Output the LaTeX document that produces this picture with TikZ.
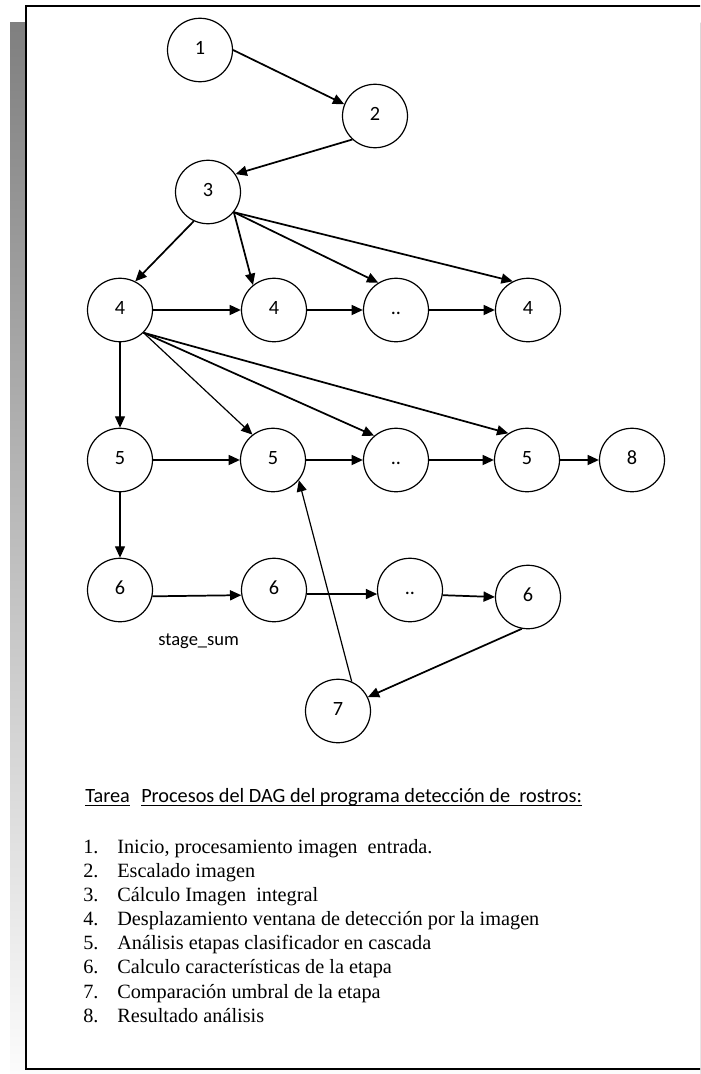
\documentclass[tikz,border=0pt]{standalone}
\usepackage{fontspec}
\setmainfont{Liberation Serif}
\newfontfamily\calibri{Carlito}
\usetikzlibrary{arrows.meta,shapes.geometric,calc}
\definecolor{shade}{RGB}{192,192,192}

\begin{document}
\begin{tikzpicture}[x=0.75pt,y=-0.75pt,
  proc/.style={ellipse,draw,line width=0.9pt,minimum width=48.75pt,minimum height=47.6pt,
    inner sep=0pt,font=\calibri\fontsize{15.2}{18}\selectfont,text height=0.63em,text depth=0pt},
  link/.style={-{Triangle[length=8.5pt,width=7.5pt]},line width=1.3pt},
  thinlink/.style={link,line width=0.9pt},
  listline/.style={anchor=base west,inner sep=0pt,font=\fontsize{15.2}{18.2}\selectfont},
  note/.style={anchor=base west,inner sep=0pt,font=\calibri\fontsize{15.2}{18}\selectfont},
  smallnote/.style={note,font=\calibri\fontsize{13.9}{16.7}\selectfont}
]
\useasboundingbox (0,0) rectangle (700,1074);
\clip (0,0) rectangle (700,1074);

% page frame with its shadow
\fill[shade] (10,23) rectangle (760,1100);
\draw[line width=1.5pt,fill=white] (26,6.5) rectangle (760,1069);

% processes
\node[proc] (n1) at (200,50) {1};
\node[proc] (n2) at (375,116) {2};
\node[proc] (n3) at (208,192) {3};
\node[proc] (a4) at (120,310) {4};
\node[proc] (b4) at (274,310) {4};
\node[proc] (c4) at (396,310) {..};
\node[proc] (d4) at (528,310) {4};
\node[proc] (a5) at (120,460) {5};
\node[proc] (b5) at (273,460) {5};
\node[proc] (c5) at (396,460) {..};
\node[proc] (d5) at (527,460) {5};
\node[proc] (n8) at (632,460) {8};
\node[proc] (a6) at (120,590) {6};
\node[proc] (b6) at (274,590) {6};
\node[proc] (c6) at (410,590) {..};
\node[proc] (d6) at (528,597) {6};
\node[proc] (n7) at (338,711) {7};
\node[smallnote] (ss) at (158,645) {stage\_sum};

% dependencies
\draw[link] (n1.east) -- (n2.159);
\draw[link] (n2.226) -- (n3.33);
\draw[link] (n3.244) -- (a4.62);
\draw[link] (n3.322) -- (b4.130);
\draw[link] (n3.322) -- (c4.123);
\draw[link] (n3.322) -- (d4.118);
\draw[link] (a4.east) -- (b4.west);
\draw[link] (b4.east) -- (c4.west);
\draw[link] (c4.east) -- (d4.west);
\draw[thinlink] (a4.south) -- (a5.north);
\draw[thinlink] (a4.316) -- (b5.129);
\draw[link] (a4.316) -- (c5.132);
\draw[link] (a4.316) -- (d5.125);
\draw[link] (a5.east) -- (b5.west);
\draw[link] (b5.east) -- (c5.west);
\draw[link] (c5.east) -- (d5.west);
\draw[link] (d5.east) -- (n8.west);
\draw[thinlink] (a5.south) -- (a6.north);
\draw[link] (a6.349) -- (b6.189);
\draw[link] (b6.353) -- (c6.187);
\draw[link] (c6.351) -- (d6.west);
\draw[link] (d6.259) -- (n7.25);
\draw[thinlink] (n7.65) -- (b5.322);

% heading
\node[note] (tarea) at (85,802) {Tarea};
\node[note] (head) at (141,802) {Procesos del DAG del programa detección de\ \ rostros:};
\draw[line width=0.75pt] ($(tarea.base west)+(0,3)$) -- ($(tarea.base east)+(0,3)$);
\draw[line width=0.75pt] ($(head.base west)+(0,3)$) -- ($(head.base east)+(0,3)$);

% list of processes
\node[listline] (k1) at (83,853) {1.};
\node[listline] (k2) at (83,877) {2.};
\node[listline] (k3) at (83,901) {3.};
\node[listline] (k4) at (83,925) {4.};
\node[listline] (k5) at (83,949.5) {5.};
\node[listline] (k6) at (83,973.5) {6.};
\node[listline] (k7) at (83,998) {7.};
\node[listline] (k8) at (83,1022) {8.};
\node[listline] (t1) at (117,853) {Inicio, procesamiento imagen\ \ entrada.};
\node[listline] (t2) at (117,877) {Escalado imagen};
\node[listline] (t3) at (117,901) {Cálculo Imagen\ \ integral};
\node[listline] (t4) at (117,925) {Desplazamiento ventana de detección por la imagen};
\node[listline] (t5) at (117,949.5) {Análisis etapas clasificador en cascada};
\node[listline] (t6) at (117,973.5) {Calculo características de la etapa};
\node[listline] (t7) at (117,998) {Comparación umbral de la etapa};
\node[listline] (t8) at (117,1022) {Resultado análisis};
\end{tikzpicture}
\end{document}
